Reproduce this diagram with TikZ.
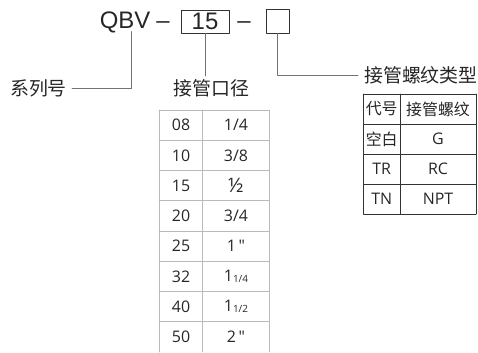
\documentclass[tikz,border=0pt]{standalone}
\usepackage{fontspec}
\setmainfont{Open Sans}
\newfontfamily\plainfont{Open Sans}[Ligatures=TeXOff]
\newfontfamily\cjk{Noto Sans CJK SC}
\newfontfamily\arialfont{Liberation Sans}

\begin{document}
\begin{tikzpicture}[x=1bp, y=-1bp, line cap=round, line join=round,
	conn/.style={draw=black!55, line width=0.8bp},
	tag/.style={font=\fontsize{24}{24}\selectfont\arialfont, text=black!85, inner sep=0},
	slot/.style={draw=black!80, line width=1bp, inner sep=0},
	caption/.style={font=\fontsize{19}{19}\selectfont\cjk, text=black!85, inner sep=0},
	cellt/.style={font=\fontsize{16}{16}\selectfont, text=black!85, inner sep=0},
	lgrid/.style={draw=black!27, line width=0.9bp},
	rgrid/.style={draw=black!80, line width=0.9bp}]
	\useasboundingbox (0,0) rectangle (478,352);

	% model code
	\node[tag, anchor=base] (qbv) at (125,28.5) {QBV};
	\node[tag, anchor=base] (dashA) at (163,28.5) {–};
	\node[tag, slot, minimum width=48bp, minimum height=23bp] (size) at (205,21.5) {15};
	\node[tag, anchor=base] (dashB) at (244,28.5) {–};
	\node[slot, minimum width=23bp, minimum height=24bp] (thread) at (277.5,21) {};
	\coordinate (bfoot) at (131,31.5);

	% captions
	\node[caption] (series) at (38.5,88) {系列号};
	\node[caption] (diam) at (211.5,88) {接管口径};
	\node[caption, anchor=west] (ttype) at (364,75) {接管螺纹类型};
	\draw[conn] (bfoot) |- ([xshift=5bp]series.east);
	\draw[conn] (size.south) -- ([yshift=3bp]size.south |- diam.north);
	\draw[conn] (thread.south) |- ([xshift=-6bp]ttype.west);

	% size table
	\foreach \i in {0,...,7}
		\draw[lgrid] (159,{110+30.25*\i}) -- (269,{110+30.25*\i});
	\foreach \x in {159,202.7,269}
		\draw[lgrid] (\x,110) -- (\x,352);
	\foreach \c/\f [count=\i from 0] in {08/{1/4},10/{3/8},15/{\fontsize{20}{20}\selectfont ½},20/{3/4},25/{\plainfont 1\,"},
		32/{1\raisebox{-1bp}{\fontsize{10}{10}\selectfont 1/4}},40/{1\raisebox{-1bp}{\fontsize{10}{10}\selectfont 1/2}},50/{\plainfont 2\,"}}{
		\node[cellt] (code\i) at (181,{125.1+30.25*\i}) {\c};
		\node[cellt] (inch\i) at (236,{125.1+30.25*\i}) {\f};
	}

	% thread table
	\foreach \i in {0,...,4}
		\draw[rgrid] (363.5,{94+30*\i}) -- (476,{94+30*\i});
	\foreach \x in {363.5,400,476}
		\draw[rgrid] (\x,94) -- (\x,214);
	\node[cellt, font=\fontsize{16}{16}\selectfont\cjk] (tc0) at (381.7,109) {代号};
	\node[cellt, font=\fontsize{16}{16}\selectfont\cjk] (tn0) at (438,109) {接管螺纹};
	\node[cellt, font=\fontsize{16}{16}\selectfont\cjk] (tc1) at (381.7,139) {空白};
	\node[cellt] (tn1) at (438,139) {G};
	\node[cellt] (tc2) at (381.7,169) {TR};
	\node[cellt] (tn2) at (438,169) {RC};
	\node[cellt] (tc3) at (381.7,199) {TN};
	\node[cellt] (tn3) at (438,199) {NPT};
\end{tikzpicture}
\end{document}
